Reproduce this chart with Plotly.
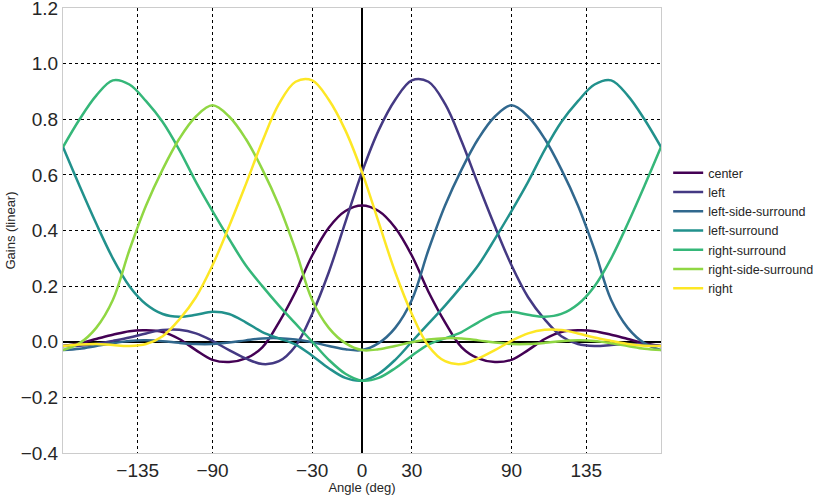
import plotly.graph_objects as go

angles = [-180, -170, -160, -150, -140, -130, -120, -110, -100, -90, -80, -70, -60, -50, -40, -30, -20, -10, 0,
          10, 20, 30, 40, 50, 60, 70, 80, 90, 100, 110, 120, 130, 140, 150, 160, 170, 180]

center = [-0.015, -0.005, 0.01, 0.025, 0.038, 0.041, 0.035, 0.01, -0.03, -0.065, -0.073, -0.06, -0.02, 0.07, 0.18, 0.31, 0.41, 0.47, 0.49,
          0.47, 0.41, 0.31, 0.18, 0.07, -0.02, -0.06, -0.073, -0.065, -0.03, 0.01, 0.035, 0.041, 0.038, 0.025, 0.01, -0.005, -0.015]
left = [-0.015, -0.014, -0.008, 0.003, 0.015, 0.03, 0.042, 0.043, 0.03, 0.003, -0.03, -0.06, -0.08, -0.07, -0.015, 0.10, 0.25, 0.43, 0.61,
        0.76, 0.87, 0.94, 0.935, 0.855, 0.72, 0.565, 0.415, 0.275, 0.16, 0.08, 0.02, -0.008, -0.015, -0.012, -0.008, -0.01, -0.015]
left_side_surround = [-0.03, -0.025, -0.015, -0.005, 0.003, 0.005, 0.002, -0.004, -0.008, -0.008, -0.003, 0.005, 0.012, 0.013, 0.008, -0.002, -0.015, -0.027, -0.03,
                      -0.005, 0.05, 0.15, 0.33, 0.49, 0.62, 0.73, 0.81, 0.85, 0.81, 0.73, 0.62, 0.49, 0.33, 0.15, 0.05, -0.005, -0.03]
left_surround = [0.70, 0.56, 0.425, 0.30, 0.20, 0.135, 0.10, 0.09, 0.097, 0.108, 0.10, 0.07, 0.035, 0.012, -0.01, -0.05, -0.095, -0.13, -0.14,
                 -0.115, -0.065, 0.0, 0.065, 0.13, 0.20, 0.275, 0.37, 0.47, 0.575, 0.69, 0.79, 0.865, 0.925, 0.94, 0.885, 0.80, 0.70]
right_surround = [0.70, 0.80, 0.885, 0.94, 0.925, 0.865, 0.79, 0.69, 0.575, 0.47, 0.37, 0.275, 0.20, 0.13, 0.065, 0.0, -0.065, -0.115, -0.14,
                  -0.13, -0.095, -0.05, -0.01, 0.012, 0.035, 0.07, 0.10, 0.108, 0.097, 0.09, 0.10, 0.135, 0.20, 0.30, 0.425, 0.56, 0.70]
right_side_surround = [-0.03, -0.005, 0.05, 0.15, 0.33, 0.49, 0.62, 0.73, 0.81, 0.85, 0.81, 0.73, 0.62, 0.49, 0.33, 0.15, 0.05, -0.005, -0.03,
                       -0.027, -0.015, -0.002, 0.008, 0.013, 0.012, 0.005, -0.003, -0.008, -0.008, -0.004, 0.002, 0.005, 0.003, -0.005, -0.015, -0.025, -0.03]
right = [-0.015, -0.01, -0.008, -0.012, -0.015, -0.008, 0.02, 0.08, 0.16, 0.275, 0.415, 0.565, 0.72, 0.855, 0.935, 0.94, 0.87, 0.76, 0.61,
         0.43, 0.25, 0.10, -0.015, -0.07, -0.08, -0.06, -0.03, 0.003, 0.03, 0.043, 0.042, 0.03, 0.015, 0.003, -0.008, -0.014, -0.015]

names = ["center", "left", "left-side-surround", "left-surround",
         "right-surround", "right-side-surround", "right"]
series = [center, left, left_side_surround, left_surround,
          right_surround, right_side_surround, right]
colors = ["#440154", "#443983", "#31688e", "#21918c", "#35b779", "#90d743", "#fde725"]

x_ticks = [-135, -90, -30, 0, 30, 90, 135]
x_ticktext = ["\u2212135", "\u221290", "\u221230", "0", "30", "90", "135"]
y_ticks = [-0.4, -0.2, 0.0, 0.2, 0.4, 0.6, 0.8, 1.0, 1.2]
y_ticktext = ["\u22120.4", "\u22120.2", "0.0", "0.2", "0.4", "0.6", "0.8", "1.0", "1.2"]

fig = go.Figure()
for nm, ys, c in zip(names, series, colors):
    fig.add_trace(go.Scatter(x=angles, y=ys, name=nm, mode="lines",
                             line=dict(color=c, width=2.5, shape="spline", smoothing=1.0)))

font = "Liberation Sans, Arial, sans-serif"
fig.update_layout(
    width=830, height=495,
    margin=dict(l=63, r=169, t=8, b=42, autoexpand=False),
    paper_bgcolor="white", plot_bgcolor="white",
    font=dict(family=font, color="#262626"),
    showlegend=True,
    legend=dict(x=1.012, xanchor="left", y=0.5, yanchor="middle",
                font=dict(size=12.5, family=font, color="#262626"),
                bgcolor="rgba(0,0,0,0)", tracegroupgap=0),
)
fig.update_xaxes(
    range=[-180, 180], tickmode="array", tickvals=x_ticks, ticktext=x_ticktext,
    tickfont=dict(size=19), ticks="", ticklen=0, automargin=False,
    ticklabeloverflow="allow",
    showgrid=True, gridcolor="black", gridwidth=1, griddash="dot",
    zeroline=True, zerolinecolor="black", zerolinewidth=2,
    showline=True, linecolor="#cccccc", linewidth=1, mirror=True,
    title=dict(text="Angle (deg)", font=dict(size=13), standoff=2),
)
fig.update_yaxes(
    range=[-0.4, 1.2001], tickmode="array", tickvals=y_ticks, ticktext=y_ticktext,
    tickfont=dict(size=19), ticks="", ticklen=0, automargin=False,
    ticklabeloverflow="allow",
    showgrid=True, gridcolor="black", gridwidth=1, griddash="dot",
    zeroline=True, zerolinecolor="black", zerolinewidth=2,
    showline=True, linecolor="#cccccc", linewidth=1, mirror=True,
    title=dict(text="Gains (linear)", font=dict(size=13), standoff=2),
)
fig.write_html("out.html", config={"displayModeBar": False},
               post_script="document.body.style.margin='0';")
